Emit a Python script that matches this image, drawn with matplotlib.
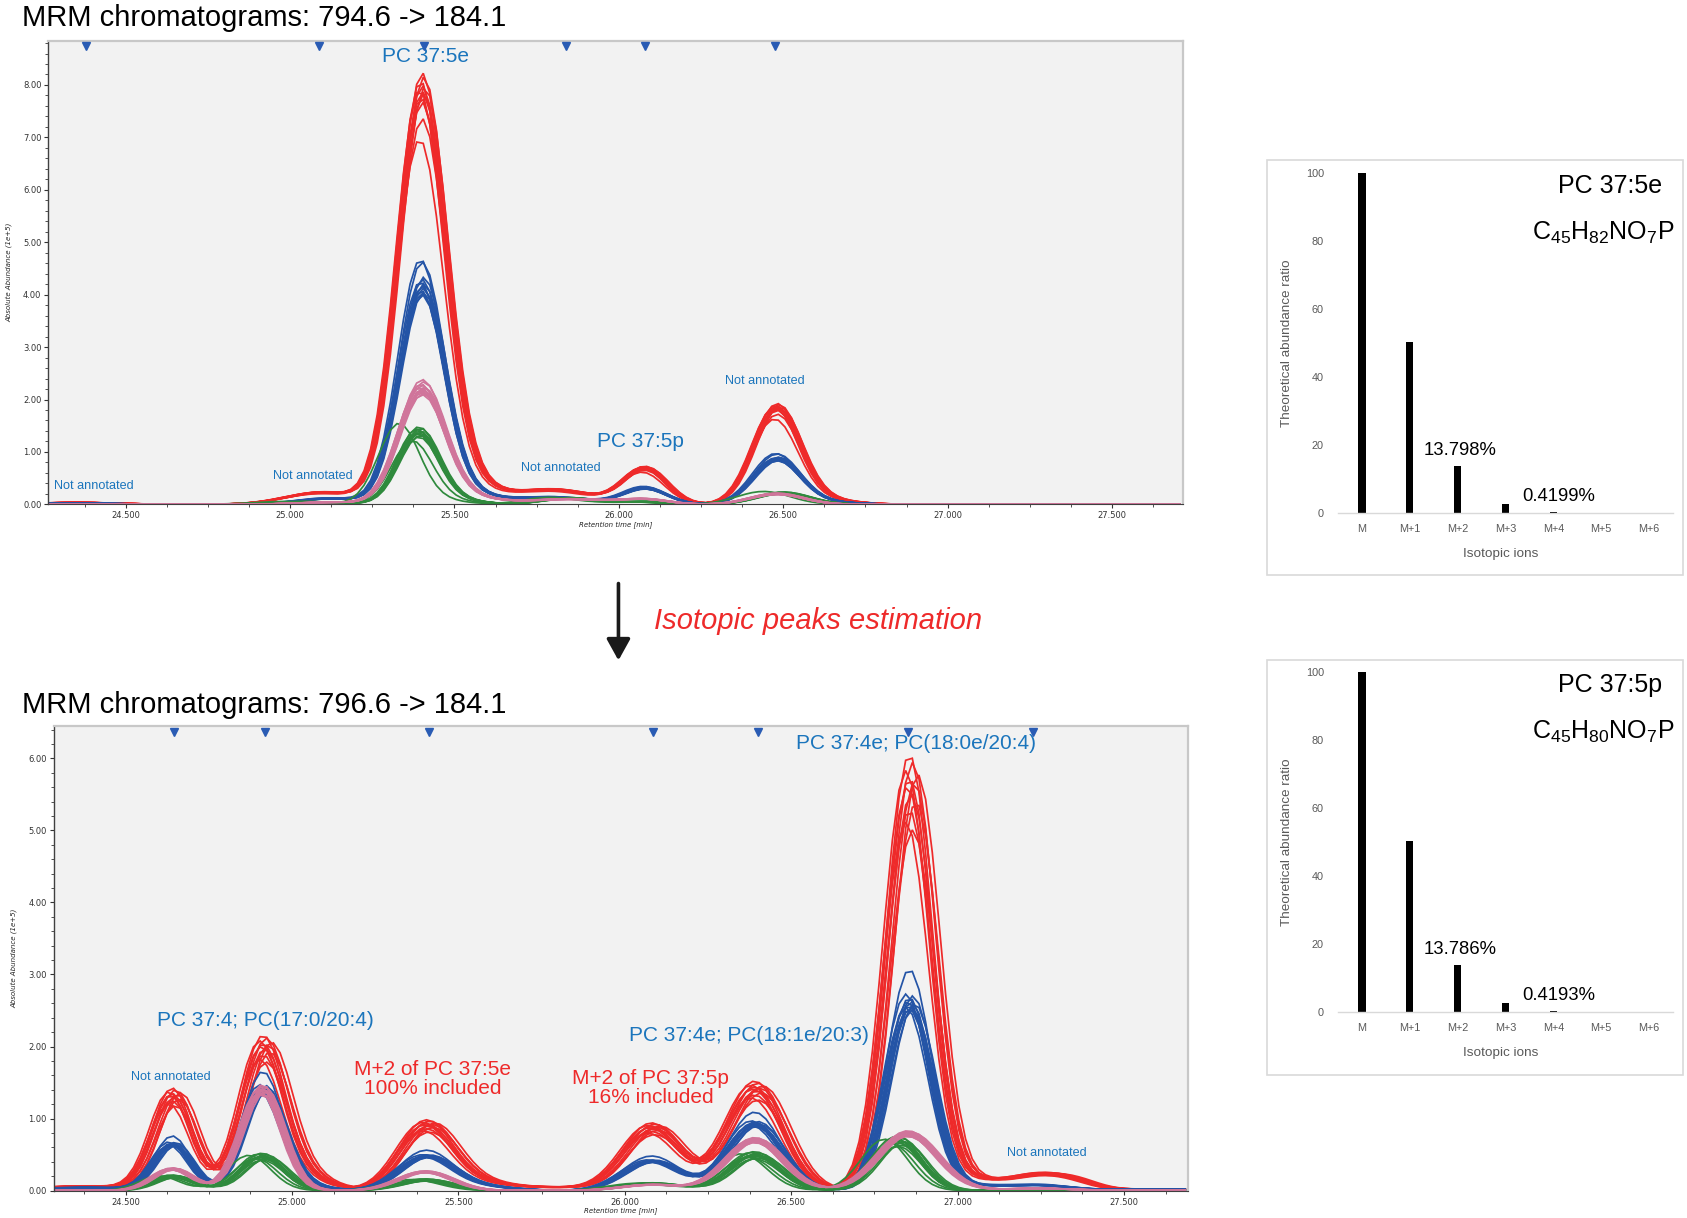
import numpy as np
import matplotlib
matplotlib.use("Agg")
import matplotlib.pyplot as plt
from matplotlib.ticker import MultipleLocator, FormatStrFormatter
from matplotlib.transforms import blended_transform_factory
from matplotlib.patches import Rectangle, FancyArrowPatch

plt.rcParams["font.family"] = ["Liberation Sans", "DejaVu Sans"]
plt.rcParams["mathtext.default"] = "regular"

# =====================================================
# Colours
# =====================================================

RED = "#ee2a2a"
BLUE = "#2454a6"
PINK = "#d0759b"
GREEN = "#2f8a3d"
LABEL_BLUE = "#1b75bc"

# =====================================================
# Top chromatogram: 794.6 -> 184.1  (abundance in 1e+5)
# peaks: centre [min], width (sigma) [min], height
# =====================================================

top_red_center = [24.35, 25.10, 25.40, 25.50, 25.80, 26.08, 26.48, 26.60]
top_red_width = [0.12, 0.11, 0.072, 0.10, 0.12, 0.065, 0.07, 0.10]
top_red_height = [0.035, 0.23, 7.60, 0.50, 0.28, 0.68, 1.80, 0.10]

top_blue_center = [24.35, 25.12, 25.40, 25.50, 25.80, 26.08, 26.48, 26.60]
top_blue_width = [0.12, 0.10, 0.068, 0.10, 0.12, 0.065, 0.07, 0.10]
top_blue_height = [0.02, 0.11, 4.05, 0.25, 0.13, 0.30, 0.85, 0.05]

top_pink_center = [25.12, 25.40, 25.52, 25.85, 26.08, 26.48]
top_pink_width = [0.10, 0.07, 0.10, 0.12, 0.07, 0.08]
top_pink_height = [0.04, 2.15, 0.15, 0.10, 0.09, 0.20]

top_green_center = [25.05, 25.39, 25.50, 25.85, 26.08, 26.50]
top_green_width = [0.10, 0.062, 0.08, 0.08, 0.07, 0.08]
top_green_height = [0.05, 1.35, 0.08, 0.12, 0.05, 0.22]

# replicate injections: peak-top spread and retention shifts
top_red_scale = [1.04, 1.03, 1.02, 1.01, 1.005, 1.0, 0.995, 0.99, 0.98, 0.97, 0.93, 0.88]
top_red_shift = [0.0, 0.005, -0.005, 0.0, 0.008, -0.008, 0.0, 0.004, -0.004, 0.0, 0.0, -0.008]
top_blue_scale = [1.11, 1.10, 1.03, 1.02, 1.01, 1.0, 0.99, 0.98, 0.97, 0.96, 0.96, 0.95]
top_blue_shift = [-0.005, 0.0, 0.005, 0.0, -0.005, 0.005, 0.0, 0.003, -0.003, 0.0, 0.005, 0.0]
top_pink_scale = [1.07, 1.05, 1.03, 1.02, 1.0, 1.0, 0.99, 0.98, 0.97, 0.96, 0.95, 0.94]
top_pink_shift = [0.0, 0.004, -0.004, 0.0, 0.006, -0.006, 0.0, 0.003, -0.003, 0.0, 0.004, 0.0]
top_green_scale = [1.12, 1.07, 1.05, 1.04, 1.02, 1.0, 0.99, 0.98, 0.97, 0.95, 0.93, 0.88]
top_green_shift = [-0.06, 0.0, 0.005, -0.005, 0.0, 0.005, 0.0, -0.005, 0.0, 0.005, 0.0, -0.02]

top_marks = [24.379, 25.088, 25.408, 25.840, 26.078, 26.474]

# =====================================================
# Bottom chromatogram: 796.6 -> 184.1
# =====================================================

bot_red_center = [24.38, 24.64, 24.91, 25.02, 25.40, 25.55, 25.80, 26.08, 26.39, 26.855, 27.05, 27.24, 27.35, 27.60]
bot_red_width = [0.15, 0.06, 0.065, 0.08, 0.08, 0.10, 0.12, 0.085, 0.085, 0.068, 0.07, 0.09, 0.06, 0.20]
bot_red_height = [0.06, 1.28, 1.88, 0.20, 0.86, 0.10, 0.04, 0.85, 1.38, 5.50, 0.12, 0.21, 0.06, 0.02]

bot_blue_center = [24.38, 24.64, 24.91, 25.00, 25.40, 25.55, 26.08, 26.39, 26.855, 27.05, 27.24, 27.60]
bot_blue_width = [0.15, 0.055, 0.06, 0.08, 0.08, 0.10, 0.085, 0.08, 0.066, 0.08, 0.09, 0.20]
bot_blue_height = [0.04, 0.64, 1.36, 0.10, 0.46, 0.06, 0.41, 0.93, 2.62, 0.06, 0.07, 0.015]

bot_pink_center = [24.64, 24.91, 25.40, 26.08, 26.39, 26.85, 27.24]
bot_pink_width = [0.06, 0.062, 0.08, 0.09, 0.085, 0.09, 0.10]
bot_pink_height = [0.30, 1.40, 0.26, 0.08, 0.70, 0.79, 0.03]

bot_green_center = [24.64, 24.91, 25.40, 26.08, 26.39, 26.82]
bot_green_width = [0.06, 0.065, 0.08, 0.09, 0.075, 0.07]
bot_green_height = [0.20, 0.48, 0.15, 0.10, 0.50, 0.70]

bot_red_scale = [1.10, 1.08, 1.06, 1.05, 1.04, 1.03, 1.02, 1.0, 0.98, 0.96, 0.93, 0.91]
bot_red_shift = [0.0, 0.01, -0.01, 0.025, 0.0, 0.015, -0.005, 0.005, 0.02, 0.0, -0.01, 0.01]
bot_blue_scale = [1.17, 1.04, 1.03, 1.02, 1.0, 1.0, 0.99, 0.98, 0.97, 0.97, 0.96, 0.96]
bot_blue_shift = [0.0, -0.01, 0.01, 0.0, 0.005, -0.005, 0.015, 0.0, -0.01, 0.005, 0.0, 0.01]
bot_pink_scale = [1.05, 1.04, 1.03, 1.02, 1.01, 1.0, 1.0, 0.99, 0.98, 0.97, 0.96, 0.95]
bot_pink_shift = [0.0, 0.005, -0.005, 0.01, 0.0, -0.01, 0.005, 0.0, 0.01, -0.005, 0.0, 0.0]
bot_green_scale = [1.08, 1.06, 1.04, 1.02, 1.0, 1.0, 0.98, 0.96, 0.95, 0.93, 0.90, 0.88]
bot_green_shift = [0.0, -0.01, 0.01, -0.04, 0.0, 0.005, -0.005, 0.02, 0.0, -0.02, 0.01, 0.0]

bot_marks = [24.645, 24.919, 25.413, 26.084, 26.400, 26.852, 27.226]

# =====================================================
# Theoretical isotope distributions
# =====================================================

iso_labels = ["M", "M+1", "M+2", "M+3", "M+4", "M+5", "M+6"]
iso_37_5e = [100.0, 50.3, 13.798, 2.62, 0.4199, 0.05, 0.005]
iso_37_5p = [100.0, 50.2, 13.786, 2.61, 0.4193, 0.05, 0.005]

# =====================================================
# Helpers
# =====================================================

def trace(t, centers, widths, heights, scale, shift):
    y = np.zeros_like(t)
    for c, w, h in zip(centers, widths, heights):
        y += h * np.exp(-0.5 * ((t - c - shift) / w) ** 2)
    return y * scale


def draw_group(ax, t, centers, widths, heights, scales, shifts, color):
    for s, d in zip(scales, shifts):
        ax.plot(t, trace(t, centers, widths, heights, s, d),
                color=color, lw=1.25, solid_joinstyle="miter")


def style_chrom(ax, xlim, ylim, marks):
    ax.set_facecolor("#f2f2f2")
    ax.set_xlim(*xlim)
    ax.set_ylim(*ylim)

    ax.xaxis.set_major_locator(MultipleLocator(0.5))
    ax.xaxis.set_minor_locator(MultipleLocator(0.125))
    ax.xaxis.set_major_formatter(FormatStrFormatter("%.3f"))
    ax.yaxis.set_major_locator(MultipleLocator(1.0))
    ax.yaxis.set_minor_locator(MultipleLocator(0.2))
    ax.yaxis.set_major_formatter(FormatStrFormatter("%.2f"))

    ax.tick_params(axis="both", which="major", length=3, width=0.8,
                   labelsize=6, pad=2, colors="#333333")
    ax.tick_params(axis="both", which="minor", length=2, width=0.6,
                   colors="#333333")
    for lab in ax.get_xticklabels() + ax.get_yticklabels():
        lab.set_family("DejaVu Sans")

    for side in ["top", "right"]:
        ax.spines[side].set_color("#c8c8c8")
        ax.spines[side].set_linewidth(1.6)
    ax.spines["left"].set_color("#404040")
    ax.spines["left"].set_linewidth(1.0)
    ax.spines["bottom"].set_color("#404040")
    ax.spines["bottom"].set_linewidth(0.8)

    ax.text(-0.0347, 0.5, "Absolute Abundance (1e+5)", transform=ax.transAxes,
            rotation=90, ha="center", va="center", fontsize=5,
            style="italic", family="DejaVu Sans", color="#222222")
    ax.text(0.5, -0.044, "Retention time [min]", transform=ax.transAxes,
            ha="center", va="center", fontsize=5, style="italic",
            family="DejaVu Sans", color="#222222")

    trans = blended_transform_factory(ax.transData, ax.transAxes)
    ax.plot(marks, [0.988] * len(marks), "v", color="#2a5cb4", ms=5.5,
            transform=trans, clip_on=False, zorder=5)


def draw_iso(ax, values, name, formula, lab2, lab4):
    x = np.arange(len(iso_labels))
    ax.bar(x, values, width=0.16, color="black")
    ax.set_xlim(-0.5, 6.5)
    ax.set_ylim(0, 100)
    ax.set_xticks(x)
    ax.set_xticklabels(iso_labels)
    ax.set_yticks(np.arange(0, 101, 20))
    ax.tick_params(axis="both", length=0, labelsize=7.8, colors="#595959")
    ax.tick_params(axis="x", pad=8)
    ax.tick_params(axis="y", pad=10)
    for side in ["left", "top", "right"]:
        ax.spines[side].set_visible(False)
    ax.spines["bottom"].set_color("#d9d9d9")
    ax.spines["bottom"].set_linewidth(1.0)
    ax.set_facecolor("none")

    ax.text(-0.15, 0.5, "Theoretical abundance ratio", transform=ax.transAxes,
            rotation=90, ha="center", va="center", fontsize=9.7,
            color="#595959")
    ax.text(0.487, -0.121, "Isotopic ions", transform=ax.transAxes,
            ha="center", va="center", fontsize=9.7, color="#595959")

    ax.text(0.966, 0.962, name, transform=ax.transAxes, ha="right",
            va="center", fontsize=18)
    ax.text(1.004, 0.825, formula, transform=ax.transAxes, ha="right",
            va="center", fontsize=18)
    ax.text(2.05, 18.5, lab2, ha="center", va="center", fontsize=13.3)
    ax.text(4.11, 4.8, lab4, ha="center", va="center", fontsize=13.3)


# =====================================================
# Figure
# =====================================================

fig = plt.figure(figsize=(16.87, 12.18), dpi=100)

# ---------------- top chromatogram ----------------

ax1 = fig.add_axes([0.0287, 0.5859, 0.6726, 0.3805])
t1 = np.arange(24.265, 27.72, 0.02)

draw_group(ax1, t1, top_red_center, top_red_width, top_red_height,
           top_red_scale, top_red_shift, RED)
draw_group(ax1, t1, top_blue_center, top_blue_width, top_blue_height,
           top_blue_scale, top_blue_shift, BLUE)
draw_group(ax1, t1, top_green_center, top_green_width, top_green_height,
           top_green_scale, top_green_shift, GREEN)
draw_group(ax1, t1, top_pink_center, top_pink_width, top_pink_height,
           top_pink_scale, top_pink_shift, PINK)

style_chrom(ax1, (24.265, 27.716), (0, 8.84), top_marks)

ax1.text(25.412, 8.55, "PC 37:5e", color=LABEL_BLUE, fontsize=15,
         ha="center", va="center")
ax1.text(26.065, 1.19, "PC 37:5p", color=LABEL_BLUE, fontsize=15,
         ha="center", va="center")
for tx, ty in [(24.402, 0.35), (25.069, 0.55), (25.824, 0.70), (26.444, 2.36)]:
    ax1.text(tx, ty, "Not annotated", color=LABEL_BLUE, fontsize=9.1,
             ha="center", va="center")

fig.text(0.0128, 0.9855, "MRM chromatograms: 794.6 -> 184.1",
         fontsize=21, ha="left", va="center")

# ---------------- bottom chromatogram ----------------

ax2 = fig.add_axes([0.0319, 0.0225, 0.6726, 0.3815])
t2 = np.arange(24.284, 27.70, 0.02)

draw_group(ax2, t2, bot_red_center, bot_red_width, bot_red_height,
           bot_red_scale, bot_red_shift, RED)
draw_group(ax2, t2, bot_blue_center, bot_blue_width, bot_blue_height,
           bot_blue_scale, bot_blue_shift, BLUE)
draw_group(ax2, t2, bot_green_center, bot_green_width, bot_green_height,
           bot_green_scale, bot_green_shift, GREEN)
draw_group(ax2, t2, bot_pink_center, bot_pink_width, bot_pink_height,
           bot_pink_scale, bot_pink_shift, PINK)

style_chrom(ax2, (24.284, 27.694), (0, 6.45), bot_marks)

ax2.text(26.874, 6.21, "PC 37:4e; PC(18:0e/20:4)", color=LABEL_BLUE,
         fontsize=15, ha="center", va="center")
ax2.text(24.919, 2.36, "PC 37:4; PC(17:0/20:4)", color=LABEL_BLUE,
         fontsize=15, ha="center", va="center")
ax2.text(26.374, 2.15, "PC 37:4e; PC(18:1e/20:3)", color=LABEL_BLUE,
         fontsize=15, ha="center", va="center")
ax2.text(25.423, 1.55, "M+2 of PC 37:5e\n100% included", color=RED,
         fontsize=15, ha="center", va="center", linespacing=1.0)
ax2.text(26.077, 1.42, "M+2 of PC 37:5p\n16% included", color=RED,
         fontsize=15, ha="center", va="center", linespacing=1.0)
for tx, ty in [(24.635, 1.58), (27.268, 0.52)]:
    ax2.text(tx, ty, "Not annotated", color=LABEL_BLUE, fontsize=9.1,
             ha="center", va="center")

fig.text(0.0128, 0.4215, "MRM chromatograms: 796.6 -> 184.1",
         fontsize=21, ha="left", va="center")

# ---------------- arrow ----------------

fig.add_artist(FancyArrowPatch(
    (0.3666, 0.5232), (0.3666, 0.4555),
    transform=fig.transFigure,
    arrowstyle="-|>,head_length=0.65,head_width=0.36",
    mutation_scale=20, lw=2.6, color="#1a1a1a"))

fig.text(0.3876, 0.4905, "Isotopic peaks estimation", color=RED,
         fontsize=21, style="italic", ha="left", va="center")

# ---------------- isotope bar charts ----------------

for y0 in [0.5279, 0.1170]:
    fig.add_artist(Rectangle((0.751, y0), 0.2466, 0.341,
                             transform=fig.transFigure, fill=False,
                             edgecolor="#d9d9d9", lw=1.2))

ax3 = fig.add_axes([0.793, 0.5788, 0.1988, 0.279])
draw_iso(ax3, iso_37_5e, "PC 37:5e", r"C$_{45}$H$_{82}$NO$_7$P",
         "13.798%", "0.4199%")

ax4 = fig.add_axes([0.793, 0.1691, 0.1988, 0.279])
draw_iso(ax4, iso_37_5p, "PC 37:5p", r"C$_{45}$H$_{80}$NO$_7$P",
         "13.786%", "0.4193%")

fig.savefig("out.png", dpi=100)
